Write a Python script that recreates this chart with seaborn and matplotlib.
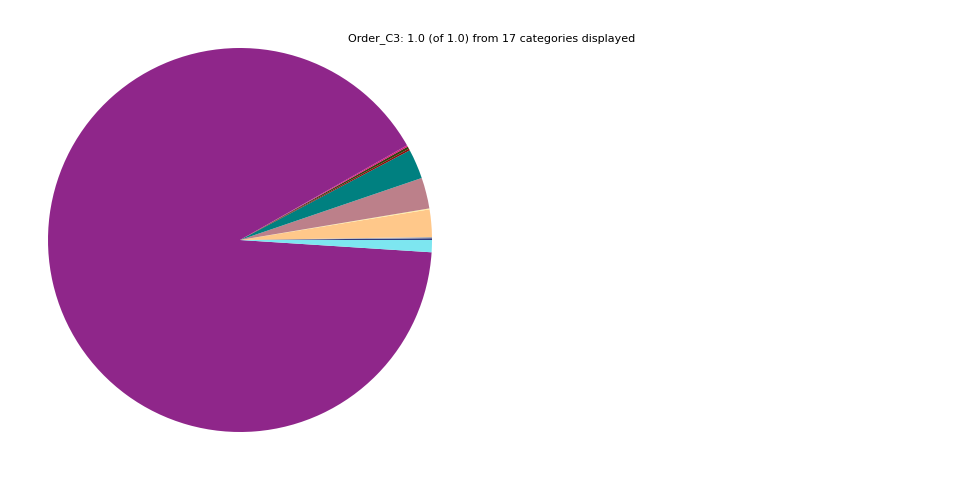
import matplotlib
matplotlib.use("Agg")
import matplotlib.pyplot as plt
import seaborn as sns

sns.set_style("white")

# slice values, counterclockwise from 0 degrees
categories = ["C01", "C02", "C03", "C04", "C05", "C06", "C07", "C08", "C09",
              "C10", "C11", "C12", "C13", "C14", "C15", "C16", "C17"]
shares = [0.0015, 0.001, 0.023, 0.0008, 0.026, 0.025, 0.0015, 0.002, 0.0012,
          0.907, 0.0, 0.0, 0.0, 0.0, 0.0, 0.0, 0.0102]
colors = ["#2f3c80", "#a8a8b0", "#ffc88a", "#fff0a0", "#bc808a", "#008080",
          "#8b0a0a", "#34420e", "#e0127c", "#8f268a", "#777777", "#777777",
          "#777777", "#777777", "#777777", "#777777", "#7de6f0"]

fig = plt.figure(figsize=(9.6, 4.8), dpi=100)
ax = fig.add_axes([48 / 960, 48 / 480, 384 / 960, 384 / 480])
ax.pie(shares, colors=colors, startangle=0, counterclock=True,
       wedgeprops={"linewidth": 0})
ax.set_xlim(-1, 1)
ax.set_ylim(-1, 1)
ax.set_aspect("equal")
ax.axis("off")

fig.text(492 / 960, 1 - 39 / 480,
         "Order_C3: 1.0 (of 1.0) from 17 categories displayed",
         ha="center", va="center", fontsize=8, color="black")

fig.savefig("out.png", dpi=100)
